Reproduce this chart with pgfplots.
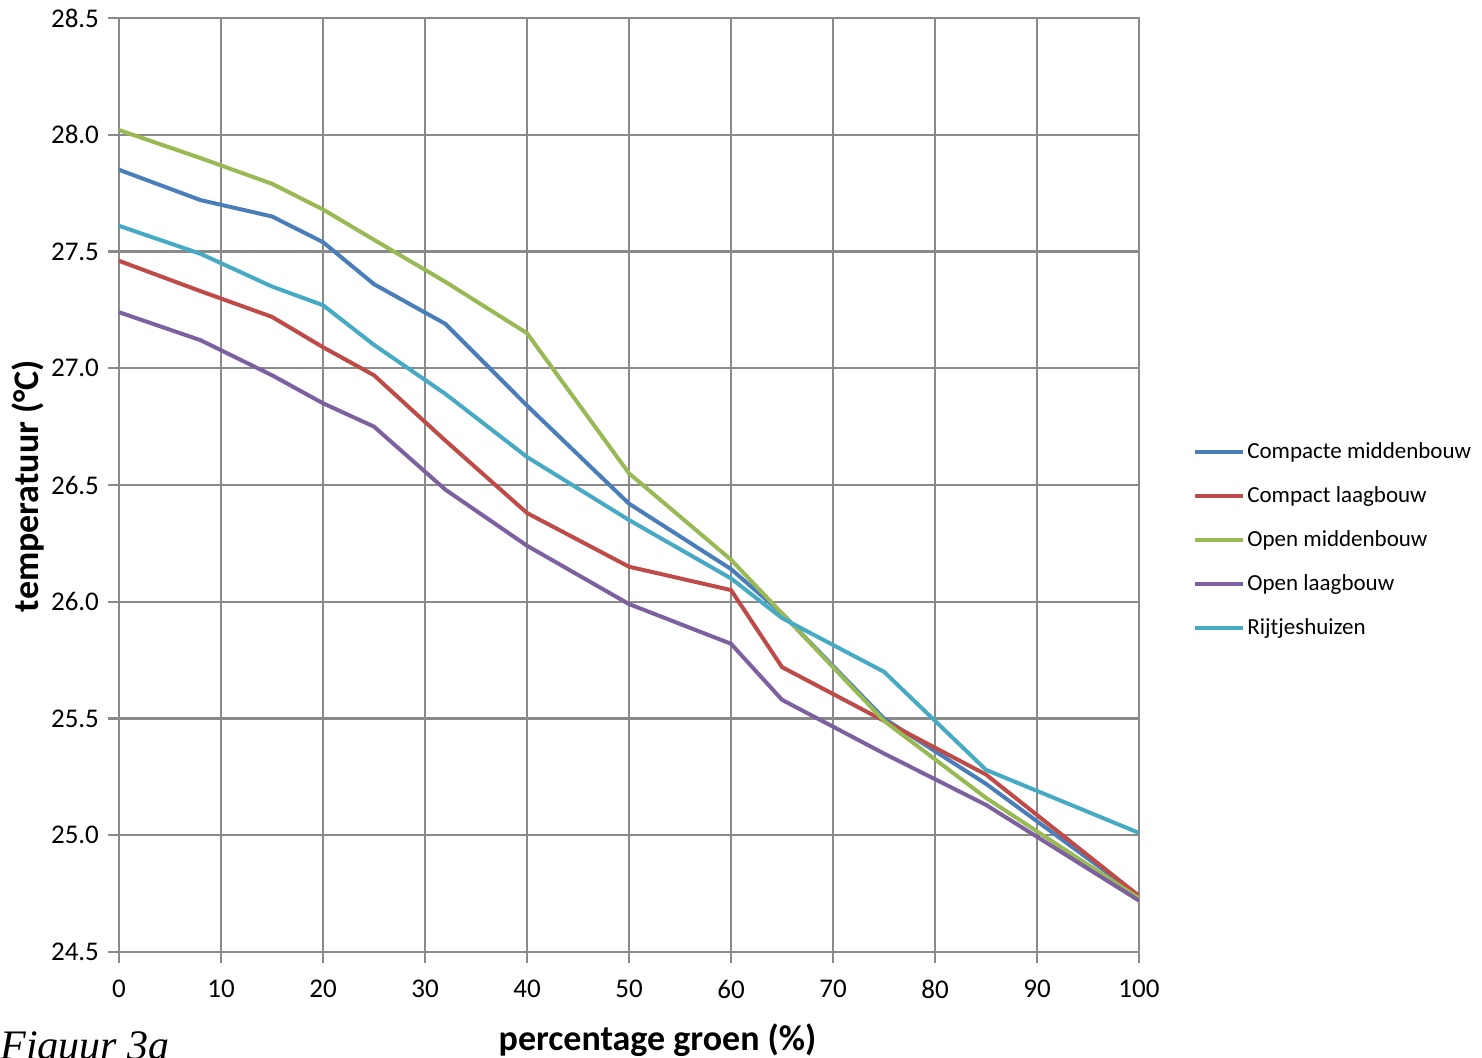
\documentclass[border=0pt]{standalone}
\usepackage{fontspec}
\setmainfont{Carlito}
\newfontfamily\figfont{Liberation Serif}
\usepackage{pgfplots}
\pgfplotsset{compat=1.18}
\definecolor{cblue}{HTML}{4A7EBB}
\definecolor{cred}{HTML}{BE4B48}
\definecolor{cgreen}{HTML}{98B954}
\definecolor{cpurple}{HTML}{7D60A0}
\definecolor{ccyan}{HTML}{46AAC5}
\definecolor{gridgray}{HTML}{8A8A8A}
\begin{document}
\begin{tikzpicture}
\path[use as bounding box] (-59.5pt,-53pt) rectangle (681.5pt,476pt);
\begin{axis}[
  at={(0pt,0pt)}, anchor=south west,
  scale only axis, width=510pt, height=467pt,
  xmin=0, xmax=100, ymin=24.5, ymax=28.5,
  xtick={0,10,...,100}, ytick={24.5,25,...,28.5},
  xtick pos=bottom, ytick pos=left,
  /pgf/number format/assume math mode=true,
  ticklabel style={font=\fontsize{13.5}{15}\selectfont},
  xticklabel style={yshift=-5pt},
  yticklabel style={xshift=-1pt, /pgf/number format/.cd, fixed, fixed zerofill, precision=1},
  grid=major,
  grid style={color=gridgray, line width=1.1pt},
  axis line style={color=gridgray, line width=1.3pt},
  tick style={color=gridgray, line width=1.1pt},
  tick align=outside, major tick length=5.5pt,
  xlabel={\textbf{percentage groen (\%)}},
  ylabel={\textbf{temperatuur (°C)}},
  label style={font=\fontsize{18}{21}\selectfont},
  xlabel style={at={(axis description cs:0.528,0)}, anchor=center, yshift=-44pt},
  ylabel style={at={(axis description cs:0,0.499)}, anchor=center, yshift=45.5pt},
  legend cell align=left,
  legend style={draw=none, fill=none, at={(axis description cs:1.047,0.554)}, anchor=north west,
    font=\fontsize{11.5}{13}\selectfont, row sep=8.5pt, nodes={inner xsep=1pt}},
  legend image code/.code={\draw[#1, line width=2pt] (0pt,0pt) -- (24pt,0pt);},
  every axis plot/.append style={line width=2pt, line join=round},
]
\addplot[cblue] coordinates {(0,27.85) (8,27.72) (15,27.65) (20,27.54) (25,27.36) (32,27.19) (40,26.84) (50,26.42) (60,26.14) (65,25.95) (75,25.50) (85,25.22) (100,24.74)};
\addlegendentry{Compacte middenbouw}
\addplot[cred] coordinates {(0,27.46) (8,27.33) (15,27.22) (20,27.09) (25,26.97) (32,26.69) (40,26.38) (50,26.15) (60,26.05) (65,25.72) (75,25.49) (85,25.26) (100,24.74)};
\addlegendentry{Compact laagbouw}
\addplot[cgreen] coordinates {(0,28.02) (8,27.90) (15,27.79) (20,27.68) (25,27.55) (32,27.37) (40,27.15) (50,26.55) (60,26.18) (65,25.95) (75,25.49) (85,25.16) (100,24.73)};
\addlegendentry{Open middenbouw}
\addplot[cpurple] coordinates {(0,27.24) (8,27.12) (15,26.97) (20,26.85) (25,26.75) (32,26.48) (40,26.24) (50,25.99) (60,25.82) (65,25.58) (75,25.35) (85,25.13) (100,24.72)};
\addlegendentry{Open laagbouw}
\addplot[ccyan] coordinates {(0,27.61) (8,27.49) (15,27.35) (20,27.27) (25,27.10) (32,26.89) (40,26.62) (50,26.35) (60,26.10) (65,25.93) (75,25.70) (85,25.28) (100,25.01)};
\addlegendentry{Rijtjeshuizen}
\end{axis}
\node[anchor=north west, inner sep=0pt] at (-59.5pt,-39.5pt) {\figfont\itshape\fontsize{21}{24}\selectfont Figuur 3a};
\end{tikzpicture}
\end{document}
